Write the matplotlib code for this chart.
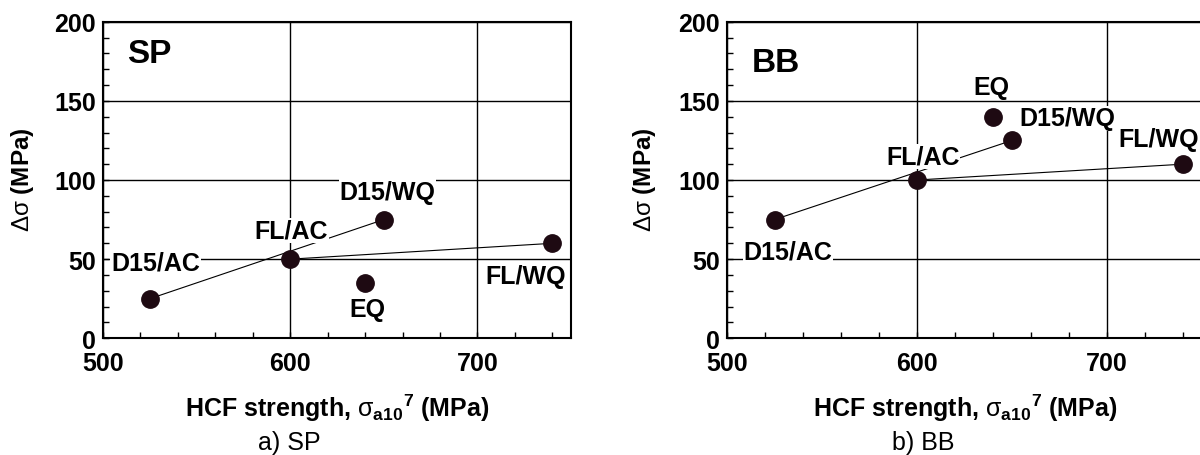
import matplotlib
matplotlib.use("Agg")
import matplotlib.pyplot as plt
from matplotlib.ticker import MultipleLocator

plt.rcParams['font.family'] = ['Liberation Sans', 'DejaVu Sans']
plt.rcParams['mathtext.fontset'] = 'custom'
plt.rcParams['mathtext.rm'] = 'Liberation Sans'
plt.rcParams['mathtext.it'] = 'Liberation Sans:italic'
plt.rcParams['mathtext.bf'] = 'Liberation Sans:bold'

# ---- data ----
labels = ["D15/AC", "FL/AC", "D15/WQ", "EQ", "FL/WQ"]
hcf = [525, 600, 650, 640, 740]
sp_dsigma = [25, 50, 75, 35, 60]
bb_dsigma = [75, 100, 125, 140, 110]
panel_names = ["SP", "BB"]
captions = ["a) SP", "b) BB"]
x_ticks = [500, 600, 700]
y_ticks = [0, 50, 100, 150, 200]

# label positions (data coords) for each panel
sp_label_pos = {"D15/AC": (528, 48, 'center'), "FL/AC": (600.5, 68, 'center'),
                "D15/WQ": (652, 92.5, 'center'), "EQ": (641, 18.5, 'center'),
                "FL/WQ": (726, 39.5, 'center')}
bb_label_pos = {"D15/AC": (532, 55, 'center'), "FL/AC": (603, 115, 'center'),
                "D15/WQ": (679, 139, 'center'), "EQ": (639, 158.5, 'center'),
                "FL/WQ": (706, 126, 'left')}

fig = plt.figure(figsize=(12, 4.56), dpi=100)
W, H = 1200, 456
top_px, bot_px = 22.7, 339.3
ax1 = fig.add_axes([103 / W, (H - bot_px) / H, 468 / W, (bot_px - top_px) / H])
ax2 = fig.add_axes([727 / W, (H - bot_px) / H, 475 / W, (bot_px - top_px) / H])

dot_color = '#1e0a12'
FS = 18

for ax, ys, name, lpos in [(ax1, sp_dsigma, "SP", sp_label_pos),
                           (ax2, bb_dsigma, "BB", bb_label_pos)]:
    ax.set_xlim(500, 750)
    ax.set_ylim(0, 200)
    ax.set_axisbelow(True)
    ax.grid(True, which='major', color='black', linewidth=1.0)
    ax.xaxis.set_major_locator(MultipleLocator(100))
    ax.yaxis.set_major_locator(MultipleLocator(50))
    ax.xaxis.set_minor_locator(MultipleLocator(20))
    ax.yaxis.set_minor_locator(MultipleLocator(10))
    ax.tick_params(which='both', direction='in', top=False, right=False,
                   width=1.0, length=4.5)
    ax.tick_params(axis='x', which='major', pad=9)
    ax.tick_params(axis='y', which='major', pad=5)
    for sp in ax.spines.values():
        sp.set_linewidth(1.5)
        sp.set_color('black')

    d = dict(zip(labels, zip(hcf, ys)))
    # connecting lines
    ax.plot([d["D15/AC"][0], d["D15/WQ"][0]], [d["D15/AC"][1], d["D15/WQ"][1]],
            color='black', linewidth=0.8, zorder=2)
    ax.plot([d["FL/AC"][0], d["FL/WQ"][0]], [d["FL/AC"][1], d["FL/WQ"][1]],
            color='black', linewidth=0.8, zorder=2)
    ax.plot(hcf, ys, linestyle='none', marker='o', markersize=12.5,
            color=dot_color, zorder=4, clip_on=False)

    for lab in labels:
        x, y, ha = lpos[lab]
        ax.text(x, y, lab, ha=ha, va='center', fontsize=FS, fontweight='bold',
                zorder=3,
                bbox=dict(facecolor='white', edgecolor='none', pad=0.5))

    ax.text(513, 180 if name == "SP" else 174, name, ha='left', va='center',
            fontsize=24, fontweight='bold')

    ax.set_xticks(x_ticks)
    ax.set_yticks(y_ticks)
    ax.set_xticklabels([str(v) for v in x_ticks], fontweight='bold', fontsize=FS)
    ax.set_yticklabels([str(v) for v in y_ticks], fontweight='bold', fontsize=FS)

# axis labels placed in figure pixels
def fx(px):
    return px / W

def fy(py):
    return 1 - py / H

xlabel = r'HCF strength, $\mathrm{\sigma}_{\mathbf{a10}}{}^{\mathbf{7}}$ (MPa)'
ylabel = r'$\mathrm{\Delta\sigma}$ (MPa)'
fig.text(fx(337), fy(408), xlabel, ha='center', va='center', fontsize=FS,
         fontweight='bold')
fig.text(fx(965), fy(408), xlabel, ha='center', va='center', fontsize=FS,
         fontweight='bold')
fig.text(fx(23), fy(180), ylabel, ha='center', va='center', rotation=90,
         fontsize=17.5, fontweight='bold')
fig.text(fx(645), fy(180), ylabel, ha='center', va='center', rotation=90,
         fontsize=17.5, fontweight='bold')
fig.text(fx(289), fy(443), captions[0], ha='center', va='center', fontsize=18)
fig.text(fx(923), fy(443), captions[1], ha='center', va='center', fontsize=18)

fig.savefig("out.png", dpi=100)
